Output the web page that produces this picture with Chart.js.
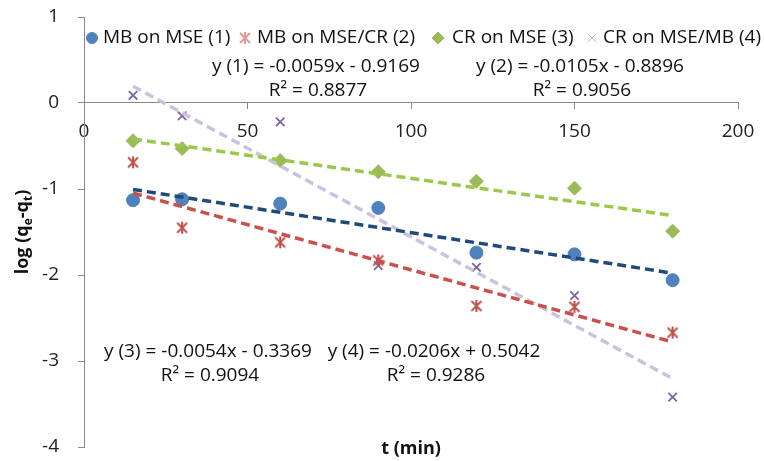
<!DOCTYPE html>
<html>
<head>
<meta charset="utf-8">
<script src="https://cdn.jsdelivr.net/npm/chart.js@4.4.0/dist/chart.umd.min.js"></script>
<style>
html, body { margin: 0; padding: 0; background: #fff; }
</style>
</head>
<body>
<canvas id="kineticChart" width="764" height="461"></canvas>
<script>
// time (min) and log(qe - qt)
var times = [15, 30, 60, 90, 120, 150, 180];
var mbOnMse   = [-1.13, -1.12, -1.17, -1.22, -1.74, -1.76, -2.06];
var mbOnMseCr = [-0.69, -1.45, -1.62, -1.83, -2.36, -2.37, -2.67];
var crOnMse   = [-0.44, -0.53, -0.67, -0.80, -0.91, -0.99, -1.49];
var crOnMseMb = [0.09, -0.15, -0.22, -1.89, -1.91, -2.24, -3.42];

var seriesNames = ['MB on MSE (1)', 'MB on MSE/CR (2)', 'CR on MSE (3)', 'CR on MSE/MB (4)'];

// linear trendlines as printed on the chart
var slopes     = [-0.0059, -0.0105, -0.0054, -0.0206];
var intercepts = [-0.9169, -0.8896, -0.3369, 0.5042];
var rSquared   = ['0.8877', '0.9056', '0.9094', '0.9286'];
var trendFrom = 15, trendTo = 180;

var xTicks = [0, 50, 100, 150, 200];
var yTicks = [1, 0, -1, -2, -3, -4];

var FONT = "'Open Sans', sans-serif";
var markerColors = ['#4F81BD', '#C0504D', '#9BBB59', '#8064A2'];
var legendColors = ['#4F81BD', '#E59896', '#9BBB59', '#BDB5D6'];
var trendColors  = ['#1F4A7D', '#C9504C', '#9CC84A', '#C9C4DE'];

// Excel style "star" marker: an x crossed by a vertical bar
function starMarker(color) {
  var c = document.createElement('canvas');
  c.width = 14; c.height = 14;
  var g = c.getContext('2d');
  g.strokeStyle = color;
  g.lineWidth = 2;
  g.beginPath();
  g.moveTo(2, 2); g.lineTo(12, 12);
  g.moveTo(12, 2); g.lineTo(2, 12);
  g.moveTo(7, 1); g.lineTo(7, 13);
  g.stroke();
  return c;
}

function toPoints(arr) {
  return times.map(function (t, i) { return { x: t, y: arr[i] }; });
}

function trendPoints(k) {
  return [
    { x: trendFrom, y: slopes[k] * trendFrom + intercepts[k] },
    { x: trendTo, y: slopes[k] * trendTo + intercepts[k] }
  ];
}

function trendSet(k) {
  return {
    label: 'trend ' + (k + 1),
    data: trendPoints(k),
    showLine: true,
    borderColor: trendColors[k],
    borderWidth: 3.5,
    borderDash: [9, 5],
    pointRadius: 0,
    fill: false
  };
}

var redStar = starMarker(markerColors[1]);
var legendStar = starMarker(legendColors[1]);

var markerStyles = [
  { pointStyle: 'circle', pointRadius: 6.5, pointBackgroundColor: markerColors[0], pointBorderColor: markerColors[0], pointBorderWidth: 1 },
  { pointStyle: redStar, pointRadius: 6, pointBackgroundColor: markerColors[1], pointBorderColor: markerColors[1], pointBorderWidth: 2 },
  { pointStyle: 'rectRot', pointRadius: 7, pointBackgroundColor: markerColors[2], pointBorderColor: markerColors[2], pointBorderWidth: 1 },
  { pointStyle: 'crossRot', pointRadius: 6, pointBackgroundColor: markerColors[3], pointBorderColor: markerColors[3], pointBorderWidth: 1.8 }
];
var legendStyles = ['circle', legendStar, 'rectRot', 'crossRot'];

var seriesData = [mbOnMse, mbOnMseCr, crOnMse, crOnMseMb];
var datasets = [];
for (var k = 0; k < 4; k++) datasets.push(trendSet(k));
for (var k = 0; k < 4; k++) {
  var ds = { label: seriesNames[k], data: toPoints(seriesData[k]), showLine: false };
  var st = markerStyles[k];
  for (var key in st) ds[key] = st[key];
  datasets.push(ds);
}

// legend, trendline equations and axis titles drawn over the plot like Excel does
var overlay = {
  id: 'overlay',
  afterDraw: function (chart) {
    var ctx = chart.ctx;
    var area = chart.chartArea;
    ctx.save();
    ctx.fillStyle = '#111';
    ctx.font = '19px ' + FONT;
    ctx.textBaseline = 'middle';

    // legend row
    var legendY = 38;
    var markX = [92, 245, 438, 592];
    var textX = [103, 257, 452, 603];
    for (var i = 0; i < 4; i++) {
      ctx.fillStyle = legendColors[i];
      ctx.strokeStyle = legendColors[i];
      Chart.helpers.drawPoint(ctx, {
        pointStyle: legendStyles[i],
        radius: i === 0 ? 5.5 : 6,
        rotation: 0,
        borderWidth: 1.2
      }, markX[i], legendY);
      ctx.fillStyle = '#111';
      ctx.textAlign = 'left';
      ctx.fillText(seriesNames[i], textX[i], legendY);
    }

    // equation labels
    var eqPos = [[316, 67], [580, 67], [208, 352], [434, 352]];
    ctx.textAlign = 'center';
    for (var j = 0; j < 4; j++) {
      var b = intercepts[j];
      var eq = 'y (' + (j + 1) + ') = ' + slopes[j].toFixed(4) + 'x ' + (b < 0 ? '- ' : '+ ') + Math.abs(b).toFixed(4);
      ctx.fillText(eq, eqPos[j][0], eqPos[j][1]);
      ctx.fillText('R\u00B2 = ' + rSquared[j], eqPos[j][0] + 2, eqPos[j][1] + 24);
    }

    // x title
    ctx.font = 'bold 18px ' + FONT;
    ctx.fillText('t (min)', (area.left + area.right) / 2, 449);

    // y title with subscripts, rotated
    var parts = [['log (q', 18, 0], ['e', 12, 4], ['-q', 18, 0], ['t', 12, 4], [')', 18, 0]];
    var total = 0;
    parts.forEach(function (p) { ctx.font = 'bold ' + p[1] + 'px ' + FONT; total += ctx.measureText(p[0]).width; });
    ctx.translate(22, (area.top + area.bottom) / 2);
    ctx.rotate(-Math.PI / 2);
    ctx.textAlign = 'left';
    ctx.textBaseline = 'alphabetic';
    var cx = -total / 2;
    parts.forEach(function (p) {
      ctx.font = 'bold ' + p[1] + 'px ' + FONT;
      ctx.fillText(p[0], cx, 6 + p[2]);
      cx += ctx.measureText(p[0]).width;
    });
    ctx.restore();
  }
};

window.onload = function () {
  var chartArea = document.getElementById('kineticChart').getContext('2d');
  var myChart = new Chart(chartArea, {
    type: 'scatter',
    data: { datasets: datasets },
    options: {
      responsive: false,
      animation: false,
      layout: { padding: { top: 17, right: 26, bottom: 14, left: 0 } },
      plugins: {
        legend: { display: false },
        tooltip: { enabled: false }
      },
      scales: {
        x: {
          type: 'linear',
          position: { y: 0 },
          min: xTicks[0],
          max: xTicks[xTicks.length - 1],
          afterBuildTicks: function (scale) {
            scale.ticks = xTicks.map(function (v) { return { value: v }; });
          },
          afterFit: function (scale) { scale.paddingLeft = 0; scale.paddingRight = 0; },
          border: { color: '#888', width: 1 },
          grid: { drawOnChartArea: false, drawTicks: true, tickLength: 6, color: '#888' },
          ticks: { padding: 11, color: '#222', font: { family: FONT, size: 19 } }
        },
        y: {
          type: 'linear',
          position: 'left',
          min: -4,
          max: 1,
          afterBuildTicks: function (scale) {
            scale.ticks = yTicks.map(function (v) { return { value: v }; });
          },
          afterFit: function (scale) {
            scale.width = 84;
            scale.paddingTop = 0;
            scale.paddingBottom = 0;
          },
          border: { color: '#888', width: 1 },
          grid: { drawOnChartArea: false, drawTicks: true, tickLength: 6, color: '#888' },
          ticks: { padding: 19, color: '#222', font: { family: FONT, size: 19 } }
        }
      }
    },
    plugins: [overlay]
  });
};
</script>
</body>
</html>
